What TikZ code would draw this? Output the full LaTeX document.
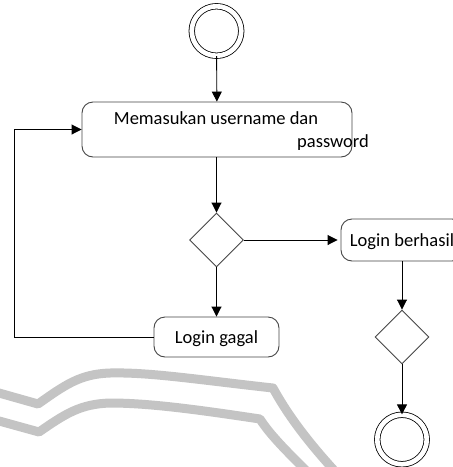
\documentclass[tikz,border=0pt]{standalone}
\usepackage{fontspec}
\setmainfont{Carlito}
\usetikzlibrary{arrows.meta,shapes.geometric}
\definecolor{edge}{RGB}{70,70,70}
\definecolor{wmark}{RGB}{196,196,196}
\tikzset{
  arr/.style={draw=black, line width=0.9pt, -{Triangle[length=10pt,width=10pt]}},
  plain/.style={draw=black, line width=0.9pt},
  actbox/.style={draw=edge, line width=0.9pt, rounded corners=11pt, inner sep=0pt,
    font=\fontsize{18.5}{22}\selectfont, text height=13pt, text depth=1pt},
  decision/.style={draw=edge, line width=0.9pt, diamond, aspect=1, inner sep=0pt,
    minimum width=54pt, minimum height=54pt},
  terminal/.style={circle, draw=black, line width=0.8pt, double=white,
    double distance=4.7pt, minimum size=49.5pt, inner sep=0pt},
  lbl/.style={font=\fontsize{18.5}{22}\selectfont, inner sep=0pt},
  wm/.style={draw=wmark, line width=9pt, line join=round}
}
\begin{document}
\begin{tikzpicture}[x=1pt, y=-1pt]
\clip (0,0) rectangle (453,467);
\fill[white] (0,0) rectangle (453,467);
% watermark bands
\draw[wm] (-8,391) -- (38,404) .. controls (65,385) and (80,374) .. (110,373)
  .. controls (150,372) and (200,380) .. (273,388)
  .. controls (285,410) and (305,440) .. (345,482);
\draw[wm] (-8,419) -- (39,432) .. controls (65,414) and (80,404) .. (110,403)
  .. controls (150,403) and (200,410) .. (260,419)
  .. controls (270,435) and (290,455) .. (318,482);
% nodes
\node[terminal] (start) at (216.5,31) {};
\node[actbox, minimum width=270pt, minimum height=55pt] (input) at (217,129.5) {};
\node[lbl, anchor=base] (t1) at (216,124) {Memasukan username dan};
\node[lbl, anchor=base west] (t2) at (297,147) {password};
\node[decision] (d1) at (216.5,240) {};
\node[actbox, minimum width=122pt, minimum height=42pt] (ok) at (402,240) {Login berhasil};
\node[actbox, minimum width=125pt, minimum height=40pt] (fail) at (216.5,337) {Login gagal};
\node[decision] (d2) at (402,337) {};
\node[terminal] (end) at (402,439.5) {};
\coordinate (c1) at (14,337);
\coordinate (c2) at (14,129.5);
% connectors
\draw[arr] (start) -- (input);
\draw[arr] (input.south -| d1) -- (d1.north);
\draw[arr, shorten >=3pt] (d1.east) -- (ok.west);
\draw[arr] (d1.south) -- (fail.north);
\draw[arr] (fail.west) -- (c1) -- (c2) -- (input.west);
\draw[arr] (ok.south) -- (d2.north);
\draw[arr] (d2.south) -- (end.north);
\end{tikzpicture}
\end{document}
